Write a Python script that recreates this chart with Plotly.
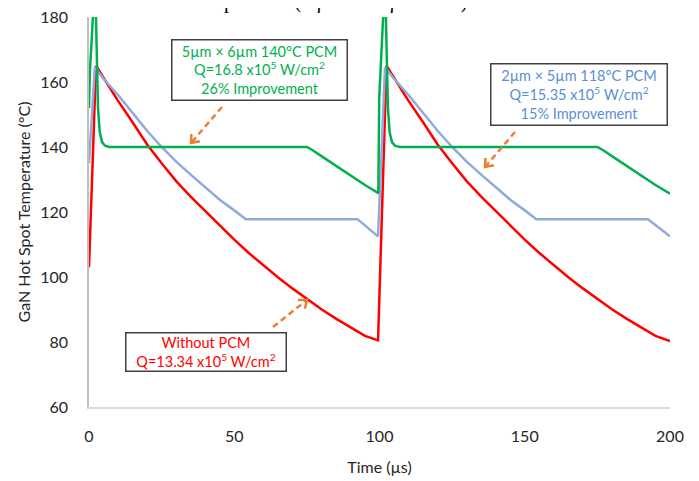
import numpy as np
import plotly.graph_objects as go

# ---------------- data ----------------
red_t = [0, 2.4, 5, 10, 15, 20, 25, 30, 35, 40, 45, 50, 55, 60, 65, 70, 75, 80, 85, 90, 95, 99.5,
         102.4, 105, 110, 115, 120, 125, 130, 135, 140, 145, 150, 155, 160, 165, 170, 175, 180,
         185, 190, 195, 200]
red_T = [103, 165, 161.3, 154.2, 147.6, 140.8, 135, 129.5, 124.7, 120.2, 115.9, 111.5, 107.4, 103.6,
         99.9, 96.5, 93.2, 90.1, 87.2, 84.5, 81.9, 80.5,
         165, 161.3, 154.2, 147.6, 140.8, 135, 129.5, 124.7, 120.2, 115.9, 111.5, 107.4, 103.6,
         99.9, 96.5, 93.2, 90.1, 87.2, 84.5, 81.9, 80.3]

blue_t = [0, 2, 5, 10, 15, 20, 25, 30, 35, 40, 45, 50, 54, 92.4, 99.5,
          101.9, 105, 110, 115, 120, 125, 130, 135, 140, 145, 150, 154, 192.4, 200]
blue_T = [135, 164.5, 161, 156, 150.5, 145, 140, 135.5, 131.5, 127.5, 123.8, 120.5, 117.8, 117.8, 112.5,
          164.5, 161, 156, 150.5, 145, 140, 135.5, 131.5, 127.5, 123.8, 120.5, 117.8, 117.8, 112.5]

green_t = [0, 0.3, 2.1, 2.6, 3.1, 3.7, 4.5, 5.5, 7, 75, 77, 80, 85, 90, 95, 99.6,
           99.9, 101.9, 102.4, 102.9, 103.5, 104.3, 105.3, 107, 175, 177, 180, 185, 190, 195, 200]
green_T = [152, 163, 192, 170, 152, 144.5, 141.5, 140.4, 140, 140, 139, 137.2, 134.2, 131.2, 128.3, 125.8,
           155, 192, 170, 152, 144.5, 141.5, 140.4, 140, 140, 139, 137.2, 134.2, 131.2, 128.3, 125.6]

x_ticks = [0, 50, 100, 150, 200]
y_ticks = [60, 80, 100, 120, 140, 160, 180]

x_title = "Time (µs)"
y_title = "GaN Hot Spot Temperature (°C)"
top_title = "temperature (5 µs and 5 µs – CW)"

box_green = "5µm × 6µm 140°C PCM<br>Q=16.8 x10<sup>5</sup> W/cm<sup>2</sup><br>26% Improvement"
box_blue = "2µm × 5µm 118°C PCM<br>Q=15.35 x10<sup>5</sup> W/cm<sup>2</sup><br>15% Improvement"
box_red = "Without PCM<br>Q=13.34 x10<sup>5</sup> W/cm<sup>2</sup>"

# ---------------- layout geometry ----------------
W, H = 699, 481
OFF = 8                      # page offset of the plot div
ML, MT = 81, 9
PW, PH = 581, 390
MR = W - ML - PW
MB = H - MT - PH


def px(x):
    """page pixel x -> paper"""
    return (x - OFF - ML) / PW


def py(y):
    """page pixel y -> paper"""
    return (OFF + MT + PH - y) / PH


RED = "#FF0000"
BLUE = "#8FAADC"
GREEN = "#00B050"
ORANGE = "#ED7D31"
FONT = "Lato, 'Open Sans', sans-serif"

fig = go.Figure()
fig.add_trace(go.Scatter(x=red_t, y=red_T, mode="lines", line=dict(color=RED, width=2.5), name="Without PCM"))
fig.add_trace(go.Scatter(x=blue_t, y=blue_T, mode="lines", line=dict(color=BLUE, width=2.5), name="2µm × 5µm"))
fig.add_trace(go.Scatter(x=green_t, y=green_T, mode="lines", line=dict(color=GREEN, width=2.5), name="5µm × 6µm"))

annotations = []
shapes = []


def box(text, cx, cy, w, h, color):
    annotations.append(dict(
        text=text, xref="paper", yref="paper", x=px(cx), y=py(cy),
        xanchor="center", yanchor="middle", showarrow=False,
        width=w - 5, height=h - 5, align="center", valign="middle",
        bgcolor="white", bordercolor="#404040", borderwidth=1.5, borderpad=1,
        font=dict(family=FONT, size=14.5, color=color)))


box(box_green, 259.5, 70, 177, 62, GREEN)
box(box_blue, 579, 94.5, 178, 63, "#5B8FD8")
box(box_red, 206, 352, 162, 40, RED)


def arrow(tail, head):
    t = np.array(tail, float)
    h = np.array(head, float)
    u = (h - t) / np.linalg.norm(h - t)
    end = h - 1.0 * u
    shapes.append(dict(type="line", xref="paper", yref="paper",
                       x0=px(t[0]), y0=py(t[1]), x1=px(end[0]), y1=py(end[1]),
                       line=dict(color=ORANGE, width=2.5, dash="6px,4px")))
    pts = []
    for ang in (np.radians(38), -np.radians(38)):
        r = np.array([[np.cos(ang), -np.sin(ang)], [np.sin(ang), np.cos(ang)]])
        pts.append(h - 9 * (r @ u))
    path = "M {} {} L {} {} L {} {}".format(px(pts[0][0]), py(pts[0][1]), px(h[0]), py(h[1]),
                                            px(pts[1][0]), py(pts[1][1]))
    shapes.append(dict(type="path", xref="paper", yref="paper", path=path,
                       line=dict(color=ORANGE, width=2.5)))


arrow((222, 107), (191, 143))
arrow((515, 132), (485, 167))
arrow((273, 327), (307, 300))

annotations.append(dict(
    text=top_title, xref="paper", yref="paper", x=px(331), y=py(15),
    xanchor="center", yanchor="bottom", showarrow=False,
    font=dict(family="'Liberation Serif', 'Times New Roman', serif", size=20, color="black")))

fig.update_layout(
    width=W, height=H,
    margin=dict(l=ML, r=MR, t=MT, b=MB, pad=0, autoexpand=False),
    paper_bgcolor="white", plot_bgcolor="white",
    showlegend=False,
    font=dict(family=FONT, size=16, color="#262626"),
    annotations=annotations, shapes=shapes,
    xaxis=dict(range=[0, 200], tickvals=x_ticks, showgrid=False, zeroline=False, automargin=False,
               showline=True, linecolor="#D9D9D9", linewidth=1.5, ticks="",
               ticklabelstandoff=14, tickfont=dict(size=16), ticklabeloverflow="allow",
               title=dict(text=x_title, font=dict(size=16), standoff=18)),
    yaxis=dict(range=[60, 180], tickvals=y_ticks, showgrid=False, zeroline=False, automargin=False,
               showline=True, linecolor="#BFBFBF", linewidth=1.5, ticks="",
               ticklabelstandoff=16, tickfont=dict(size=16), ticklabeloverflow="allow",
               title=dict(text=y_title, font=dict(size=16), standoff=6)),
)

fig.write_html("out.html")
